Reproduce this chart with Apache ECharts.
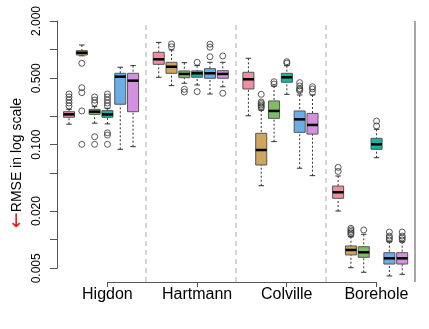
<!DOCTYPE html>
<html><head><meta charset="utf-8">
<script src="https://cdn.jsdelivr.net/npm/echarts@6/dist/echarts.min.js"></script>
<style>html,body{margin:0;padding:0;background:#fff}#c{width:429px;height:329px}</style>
</head><body><div id="c"></div>
<script>
const groups = ['Higdon', 'Hartmann', 'Colville', 'Borehole'];
const yTicks = [2, 1, 0.5, 0.2, 0.1, 0.05, 0.02, 0.01, 0.005];
const yLabels = [2, 0.5, 0.1, 0.02, 0.005];

// [lower whisker, Q1, median, Q3, upper whisker] per group
const pinkStats = [
  [0.164, 0.194, 0.208, 0.222, 0.235],
  [0.511, 0.700, 0.791, 0.936, 1.19],
  [0.201, 0.385, 0.487, 0.577, 0.810],
  [0.0200, 0.0272, 0.0315, 0.0366, 0.0467]
];
const tanStats = [
  [0.86, 0.877, 0.927, 0.974, 1.118],
  [0.417, 0.563, 0.660, 0.735, 0.991],
  [0.0369, 0.061, 0.0877, 0.1315, 0.231],
  [0.00506, 0.00690, 0.00778, 0.00857, 0.01072]
];
const greenStats = [
  [0.168, 0.208, 0.222, 0.235, 0.251],
  [0.442, 0.506, 0.554, 0.596, 0.728],
  [0.1074, 0.189, 0.226, 0.288, 0.414],
  [0.00453, 0.00651, 0.00735, 0.00842, 0.01137]
];
const tealStats = [
  [0.165, 0.194, 0.208, 0.228, 0.241],
  [0.424, 0.511, 0.563, 0.596, 0.678],
  [0.338, 0.453, 0.511, 0.563, 0.678],
  [0.0728, 0.0892, 0.1007, 0.1165, 0.145]
];
const blueStats = [
  [0.0892, 0.266, 0.519, 0.563, 0.652],
  [0.341, 0.499, 0.563, 0.630, 0.735],
  [0.0564, 0.1346, 0.1845, 0.226, 0.333],
  [0.00414, 0.00553, 0.00635, 0.00728, 0.00951]
];
const purpleStats = [
  [0.0951, 0.222, 0.471, 0.563, 0.678],
  [0.406, 0.499, 0.554, 0.600, 0.735],
  [0.0471, 0.129, 0.161, 0.213, 0.333],
  [0.00431, 0.00553, 0.00635, 0.00728, 0.00951]
];

// outliers per group
const pinkOut = [[0.255, 0.274, 0.294, 0.317, 0.341], [], [], [0.0522, 0.0576]];
const tanOut = [[0.718, 0.397, 0.352, 0.226, 0.1007], [1.07, 1.146], [0.243, 0.252, 0.261, 0.271, 0.281, 0.338], [0.01132, 0.01175, 0.01217, 0.01265, 0.01315]];
const greenOut = [[0.274, 0.294, 0.317, 0.121, 0.1007], [0.358, 0.382], [0.434, 0.459], [0.01262]];
const tealOut = [[0.255, 0.274, 0.294, 0.317, 0.341, 0.133, 0.126, 0.1007], [0.735, 0.361], [0.72, 0.746], [0.157, 0.177]];
const blueOut = [[], [0.841, 1.06, 1.14], [0.369, 0.379, 0.389, 0.414, 0.449], [0.0099, 0.0104, 0.0109, 0.0120]];
const purpleOut = [[], [0.857, 0.347], [0.355, 0.385, 0.406], [0.0099, 0.0104, 0.0109, 0.0120]];

const methodStats = [pinkStats, tanStats, greenStats, tealStats, blueStats, purpleStats];
const methodOut = [pinkOut, tanOut, greenOut, tealOut, blueOut, purpleOut];
const colors = ['#EE8EA2', '#CDA55C', '#7DBD66', '#19B39E', '#6BAEE5', '#D690E2'];

const L = Math.log10;
const slot = 7; // 6 boxes + 1 gap per group
const boxData = [];
const outData = [];
groups.forEach((g, gi) => {
  methodStats.forEach((st, mi) => {
    const x = gi * slot + mi;
    const s = st[gi];
    boxData.push({ value: [x, L(s[0]), L(s[1]), L(s[2]), L(s[3]), L(s[4])], colorIdx: mi });
    methodOut[mi][gi].forEach(v => outData.push([x, L(v)]));
  });
});

const chart = echarts.init(document.getElementById('c'), null, { renderer: 'canvas' });
const gridLeft = 57, gridRight = 14, plotTop = 21, plotBottom = 282;

chart.setOption({
  animation: false,
  grid: [
    { left: gridLeft, top: 21, height: 247.3, width: 1 },
    { left: gridLeft, right: gridRight, top: plotTop, bottom: 329 - plotBottom },
    { left: 107.4, right: 52.6, top: 281, height: 1 }
  ],
  xAxis: [
    { gridIndex: 0, type: 'value', show: false },
    { gridIndex: 1, type: 'value', min: -0.937, max: 27, show: false },
    {
      gridIndex: 2, type: 'value', min: 0, max: 21, interval: 7,
      axisLine: { show: true, lineStyle: { color: '#555', width: 1 } },
      axisTick: { show: true, length: 5, lineStyle: { color: '#555' } },
      axisLabel: { formatter: v => groups[Math.round(v / 7)], fontSize: 16, color: '#000', margin: 5, fontFamily: 'Liberation Sans' },
      splitLine: { show: false }
    }
  ],
  yAxis: [
    {
      gridIndex: 0, type: 'value', min: L(0.005), max: L(2),
      axisLine: { show: true, lineStyle: { color: '#555', width: 1 } },
      axisTick: { show: true, length: 7, customValues: yTicks.map(L), lineStyle: { color: '#555' } },
      axisLabel: { customValues: yLabels.map(L), rotate: 90, fontSize: 12, color: '#000', margin: 14,
        fontFamily: 'Liberation Sans',
        formatter: v => Math.pow(10, v).toFixed(3) },
      splitLine: { show: false }
    },
    { gridIndex: 1, type: 'value', min: L(2) - (plotBottom - plotTop) / 95, max: L(2), show: false },
    { gridIndex: 2, type: 'value', show: false }
  ],
  graphic: [{
    type: 'text', x: 17, y: 163, rotation: Math.PI / 2,
    style: {
      text: '{a|←}{b|RMSE in log scale}',
      align: 'center', verticalAlign: 'middle',
      rich: {
        a: { fill: '#E8141C', fontSize: 19, fontFamily: 'DejaVu Sans' },
        b: { fill: '#000', fontSize: 14, fontFamily: 'Liberation Sans' }
      }
    }
  }],
  series: [
    {
      type: 'custom', xAxisIndex: 1, yAxisIndex: 1,
      data: boxData,
      renderItem: function (params, api) {
        const x = api.value(0);
        const lo = api.coord([x, api.value(1)]);
        const q1 = api.coord([x, api.value(2)]);
        const md = api.coord([x, api.value(3)]);
        const q3 = api.coord([x, api.value(4)]);
        const hi = api.coord([x, api.value(5)]);
        const w = api.size([0.86, 0])[0];
        const cx = lo[0];
        const cap = w / 4;
        const col = colors[boxData[params.dataIndex].colorIdx];
        const dash = { stroke: '#333', lineWidth: 1, lineDash: [2, 2] };
        const solid = { stroke: '#333', lineWidth: 1 };
        return {
          type: 'group', children: [
            { type: 'line', shape: { x1: cx, y1: lo[1], x2: cx, y2: q1[1] }, style: dash },
            { type: 'line', shape: { x1: cx, y1: hi[1], x2: cx, y2: q3[1] }, style: dash },
            { type: 'line', shape: { x1: cx - cap, y1: lo[1], x2: cx + cap, y2: lo[1] }, style: solid },
            { type: 'line', shape: { x1: cx - cap, y1: hi[1], x2: cx + cap, y2: hi[1] }, style: solid },
            { type: 'rect', shape: { x: cx - w / 2, y: q3[1], width: w, height: q1[1] - q3[1] },
              style: { fill: col, stroke: '#555', lineWidth: 1 } },
            { type: 'line', shape: { x1: cx - w / 2, y1: md[1], x2: cx + w / 2, y2: md[1] },
              style: { stroke: '#000', lineWidth: 2.5 } }
          ]
        };
      },
      markLine: {
        silent: true, symbol: 'none', label: { show: false },
        lineStyle: { type: [5, 4], color: '#C8C8C8', width: 1.5 },
        data: [
          { xAxis: 6 }, { xAxis: 13 }, { xAxis: 20 },
          { xAxis: 27, lineStyle: { type: 'solid', color: '#888', width: 1.5 } }
        ]
      }
    },
    {
      type: 'scatter', xAxisIndex: 1, yAxisIndex: 1,
      data: outData, symbol: 'circle', symbolSize: 6,
      itemStyle: { color: 'rgba(255,255,255,0)', borderColor: '#333', borderWidth: 1 }
    }
  ]
});
</script></body></html>
